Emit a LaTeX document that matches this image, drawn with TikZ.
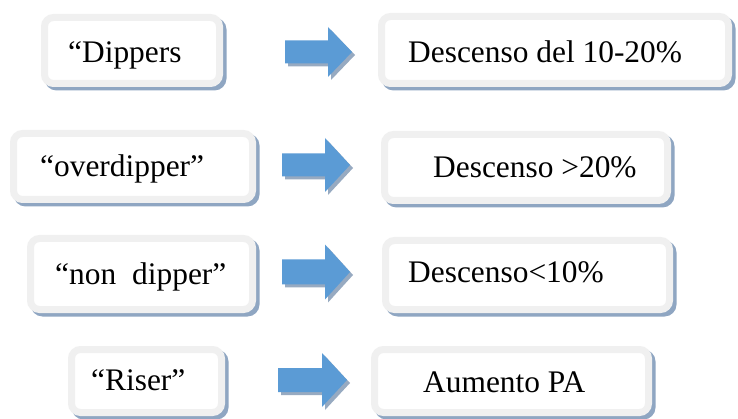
\documentclass[tikz,border=0pt]{standalone}
\usepackage{fontspec}
\setmainfont{Liberation Serif}
\definecolor{boxgray}{HTML}{F0F0F0}
\definecolor{shadowc}{HTML}{8FA6C2}
\definecolor{arrowblue}{HTML}{5B9BD5}
\definecolor{arrowshadow}{HTML}{97AAC1}
\tikzset{
  boxshape/.style={draw=boxgray, line width=7pt, fill=white, rounded corners=9pt, inner sep=0pt},
  boxshadow/.style={fill=shadowc, rounded corners=12pt},
  label text/.style={anchor=base west, inner sep=0pt, font=\fontsize{31.4}{36}\selectfont},
}
% name, x1, y1, x2, y2 (outer edges, pixel coords)
\newcommand\mybox[5]{%
  \fill[boxshadow] (#2+3.5,#3+3.5) rectangle (#4+3.5,#5+3.5);
  \path[boxshape] (#2+3.5,#3+3.5) rectangle (#4-3.5,#5-3.5);
  \coordinate (#1) at ({(#2+#4)/2},{(#3+#5)/2});
}
% name, shaft left, head base, tip, centre y, shaft half, head half
\newcommand\blockarrow[7]{%
  \fill[arrowshadow] (#2+3,#5-#6+3) -- (#3+3,#5-#6+3) -- (#3+3,#5-#7+3) -- (#4+3,#5+3) -- (#3+3,#5+#7+3) -- (#3+3,#5+#6+3) -- (#2+3,#5+#6+3) -- cycle;
  \fill[arrowblue] (#2,#5-#6) -- (#3,#5-#6) -- (#3,#5-#7) -- (#4,#5) -- (#3,#5+#7) -- (#3,#5+#6) -- (#2,#5+#6) -- cycle;
  \coordinate (#1) at (#2,#5);
}
\begin{document}
\begin{tikzpicture}[x=1pt,y=-1pt]
\useasboundingbox[fill=white] (0,0) rectangle (738,419);

% row 1
\mybox{b1l}{41}{14}{223}{87}
\mybox{b1r}{378}{13}{732}{87}
\node[label text] (t1l) at (68,63) {“Dippers};
\node[label text] (t1r) at (408,63) {Descenso del 10-20\%};
\blockarrow{a1}{285}{328}{352}{52}{11.5}{25}

% row 2
\mybox{b2l}{10}{130}{256}{203}
\mybox{b2r}{381}{131}{671}{204}
\node[label text] (t2l) at (40,177) {“overdipper”};
\node[label text] (t2r) at (433,178) {Descenso >20\%};
\blockarrow{a2}{282}{325}{350}{165}{11.5}{27}

% row 3
\mybox{b3l}{27}{235}{256}{313}
\mybox{b3r}{382}{237}{673}{313}
\node[label text] (t3l) at (55,285) {“non\hspace{16pt}dipper”};
\node[label text] (t3r) at (408,283) {Descenso<10\%};
\blockarrow{a3}{282}{325}{350}{272}{12.5}{27.5}

% row 4
\mybox{b4l}{68}{346}{225}{416}
\mybox{b4r}{371}{346}{652}{416}
\node[label text] (t4l) at (91,390) {“Riser”};
\node[label text] (t4r) at (423,392) {Aumento PA};
\blockarrow{a4}{278}{322}{347}{380}{12}{27}
\end{tikzpicture}
\end{document}
